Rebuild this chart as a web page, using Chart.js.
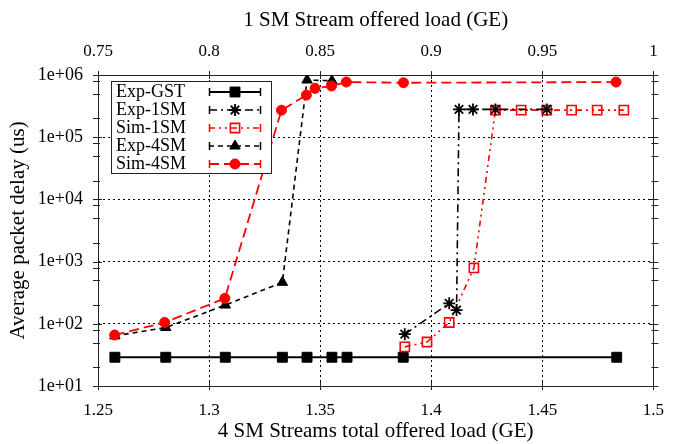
<!DOCTYPE html>
<html>
<head>
<meta charset="utf-8">
<script src="https://cdn.jsdelivr.net/npm/chart.js@4/dist/chart.umd.min.js"></script>
<style>
  html, body { margin: 0; padding: 0; background: #fff; }
  #wrap { width: 678px; height: 444px; }
</style>
</head>
<body>
<div id="wrap"><canvas id="c" width="678" height="444"></canvas></div>
<script>
// ---------- data ----------
const seriesLabels = ['Exp-GST', 'Exp-1SM', 'Sim-1SM', 'Exp-4SM', 'Sim-4SM'];

// 4 SM streams total offered load (GE) -> bottom axis
const xExpGST = [1.2576, 1.2805, 1.3073, 1.3330, 1.3441, 1.3553, 1.3621, 1.3874, 1.4835];
const yExpGST = [29, 29, 29, 29, 29, 29, 29, 29, 29];

const xExp4SM = [1.2576, 1.2805, 1.3073, 1.3330, 1.3441, 1.3553];
const yExp4SM = [64, 87, 200, 464, 830000, 810000];

const xSim4SM = [1.2575, 1.2800, 1.3071, 1.3326, 1.3438, 1.3477, 1.3551, 1.3618, 1.3875, 1.4832];
const ySim4SM = [66, 105, 256, 272000, 475000, 610000, 665000, 770000, 750000, 770000];

// 1 SM stream offered load (GE) -> top axis
const xExp1SM = [0.8881, 0.9081, 0.9114, 0.9125, 0.9188, 0.9289, 0.9520];
const yExp1SM = [68, 213, 166, 280000, 280000, 280000, 280000];

const xSim1SM = [0.8881, 0.8981, 0.9081, 0.9192, 0.9289, 0.9405, 0.9520, 0.9632, 0.9747, 0.9867];
const ySim1SM = [42.6, 51, 105, 790, 272000, 272000, 272000, 272000, 272000, 272000];

// ticks
const xBottomTicks = [1.25, 1.3, 1.35, 1.4, 1.45, 1.5];
const xBottomLabels = ['1.25', '1.3', '1.35', '1.4', '1.45', '1.5'];
const xTopTicks = [0.75, 0.8, 0.85, 0.9, 0.95, 1];
const xTopLabels = ['0.75', '0.8', '0.85', '0.9', '0.95', '1'];
const yTicks = [10, 100, 1000, 10000, 100000, 1000000];
const yTickLabels = ['1e+01', '1e+02', '1e+03', '1e+04', '1e+05', '1e+06'];
const yMinorFactors = [2, 5, 8];

const xBottomTitle = '4 SM Streams total offered load (GE)';
const xTopTitle = '1 SM Stream offered load (GE)';
const yTitle = 'Average packet delay (us)';

// ---------- build ----------
const zip = (xs, ys) => xs.map((x, i) => ({ x: x, y: ys[i] }));
const RED = '#ff0000';
const SERIF = "'Liberation Serif', 'Times New Roman', serif";

const datasets = [
  { label: seriesLabels[0], data: zip(xExpGST, yExpGST), xAxisID: 'x',
    borderColor: '#000', backgroundColor: '#000', borderWidth: 2, borderDash: [],
    pointStyle: 'rect', pointRadius: 7, pointBorderWidth: 1, order: 4 },
  { label: seriesLabels[1], data: zip(xExp1SM, yExp1SM), xAxisID: 'x2',
    borderColor: '#000', backgroundColor: '#000', borderWidth: 1.6, borderDash: [8, 4, 2, 4],
    pointStyle: 'star', pointRadius: 6, pointBorderWidth: 1.8, order: 1 },
  { label: seriesLabels[2], data: zip(xSim1SM, ySim1SM), xAxisID: 'x2',
    borderColor: RED, backgroundColor: 'rgba(0,0,0,0)', borderWidth: 1.6, borderDash: [6, 4, 2, 4, 2, 4],
    pointStyle: 'rect', pointRadius: 6.5, pointBorderWidth: 1.6, order: 3 },
  { label: seriesLabels[3], data: zip(xExp4SM, yExp4SM), xAxisID: 'x',
    borderColor: '#000', backgroundColor: '#000', borderWidth: 1.6, borderDash: [5, 4],
    pointStyle: 'triangle', pointRadius: 6, pointBorderWidth: 1, order: 2 },
  { label: seriesLabels[4], data: zip(xSim4SM, ySim4SM), xAxisID: 'x',
    borderColor: RED, backgroundColor: RED, borderWidth: 1.8, borderDash: [10, 5],
    pointStyle: 'circle', pointRadius: 5, pointBorderWidth: 1, order: 0 }
];
datasets.forEach(d => {
  d.yAxisID = 'y';
  d.showLine = true;
  d.tension = 0;
  d.fill = false;
  d.pointBackgroundColor = d.backgroundColor;
  d.pointBorderColor = d.borderColor;
  d.pointHoverRadius = d.pointRadius;
});

// marker drawing for the legend
function drawMarker(ctx, style, x, y, r, stroke, fill, lw) {
  ctx.save();
  ctx.setLineDash([]);
  ctx.lineWidth = lw;
  ctx.strokeStyle = stroke;
  ctx.fillStyle = fill;
  ctx.beginPath();
  if (style === 'rect') {
    const s = Math.SQRT1_2 * r;
    ctx.rect(x - s, y - s, 2 * s, 2 * s);
    ctx.fill(); ctx.stroke();
  } else if (style === 'circle') {
    ctx.arc(x, y, r, 0, Math.PI * 2);
    ctx.fill(); ctx.stroke();
  } else if (style === 'triangle') {
    ctx.moveTo(x, y - r);
    ctx.lineTo(x + r * Math.sin(2 * Math.PI / 3), y - r * Math.cos(2 * Math.PI / 3));
    ctx.lineTo(x + r * Math.sin(4 * Math.PI / 3), y - r * Math.cos(4 * Math.PI / 3));
    ctx.closePath();
    ctx.fill(); ctx.stroke();
  } else if (style === 'star') {
    for (let k = 0; k < 4; k++) {
      const a = k * Math.PI / 4;
      ctx.moveTo(x + Math.cos(a) * r, y + Math.sin(a) * r);
      ctx.lineTo(x - Math.cos(a) * r, y - Math.sin(a) * r);
    }
    ctx.stroke();
  }
  ctx.restore();
}

// frame + gnuplot-like ticks
const framePlugin = {
  id: 'frame',
  beforeDatasetsDraw(chart) {
    const ctx = chart.ctx;
    const a = chart.chartArea;
    const ys = chart.scales.y, xb = chart.scales.x, xt = chart.scales.x2;
    ctx.save();
    ctx.strokeStyle = '#222';
    ctx.lineWidth = 1;
    ctx.setLineDash([]);
    ctx.beginPath();
    yTicks.forEach((v, i) => {
      const p = Math.round(ys.getPixelForValue(v)) + 0.5;
      ctx.moveTo(a.left - 5, p); ctx.lineTo(a.left + 4, p);
      ctx.moveTo(a.right - 4, p); ctx.lineTo(a.right + 5, p);
      if (i < yTicks.length - 1) {
        yMinorFactors.forEach(f => {
          const q = Math.round(ys.getPixelForValue(v * f)) + 0.5;
          ctx.moveTo(a.left - 5, q); ctx.lineTo(a.left + 2, q);
          ctx.moveTo(a.right - 2, q); ctx.lineTo(a.right + 5, q);
        });
      }
    });
    xBottomTicks.forEach(v => {
      const p = Math.round(xb.getPixelForValue(v)) + 0.5;
      ctx.moveTo(p, a.bottom - 4); ctx.lineTo(p, a.bottom + 4);
    });
    xTopTicks.forEach(v => {
      const p = Math.round(xt.getPixelForValue(v)) + 0.5;
      ctx.moveTo(p, a.top - 4); ctx.lineTo(p, a.top + 4);
    });
    ctx.stroke();
    ctx.strokeRect(Math.round(a.left) + 0.5, Math.round(a.top) + 0.5,
                   Math.round(a.right - a.left), Math.round(a.bottom - a.top));
    ctx.restore();
  },
  afterDatasetsDraw(chart) {
    const ctx = chart.ctx;
    const bx = 111, by = 81, bw = 160, bh = 92;
    ctx.save();
    ctx.fillStyle = '#fff';
    ctx.fillRect(bx, by, bw, bh);
    ctx.strokeStyle = '#222';
    ctx.lineWidth = 1;
    ctx.setLineDash([]);
    ctx.strokeRect(bx + 0.5, by + 0.5, bw, bh);
    ctx.font = '18px ' + SERIF;
    ctx.textBaseline = 'middle';
    ctx.textAlign = 'left';
    chart.data.datasets.forEach((d, i) => {
      const ry = by + 11 + i * 18;
      ctx.fillStyle = '#000';
      ctx.fillText(d.label, bx + 5, ry);
      const x1 = 209, x2 = 261;
      ctx.strokeStyle = d.borderColor;
      ctx.lineWidth = d.borderWidth;
      ctx.setLineDash(d.borderDash || []);
      ctx.beginPath();
      ctx.moveTo(x1, ry); ctx.lineTo(x2, ry);
      ctx.stroke();
      ctx.setLineDash([]);
      ctx.lineWidth = 1.5;
      ctx.beginPath();
      ctx.moveTo(x1 + 0.5, ry - 4); ctx.lineTo(x1 + 0.5, ry + 4);
      ctx.moveTo(x2 - 0.5, ry - 4); ctx.lineTo(x2 - 0.5, ry + 4);
      ctx.stroke();
      drawMarker(ctx, d.pointStyle, 235, ry, d.pointRadius, d.pointBorderColor,
                 d.pointBackgroundColor, d.pointBorderWidth);
    });
    ctx.restore();
  }
};

const tickFont = { family: SERIF, size: 17 };
const yTickFont = { family: SERIF, size: 18 };
const titleFont = { family: SERIF, size: 21 };

new Chart(document.getElementById('c'), {
  type: 'line',
  data: { datasets: datasets },
  options: {
    responsive: false,
    animation: false,
    devicePixelRatio: 1,
    layout: { padding: { left: 0, right: 14, top: 0, bottom: 0 } },
    plugins: { legend: { display: false }, tooltip: { enabled: false } },
    scales: {
      x: {
        type: 'linear', position: 'bottom', min: 1.25, max: 1.5,
        afterBuildTicks: s => { s.ticks = xBottomTicks.map(v => ({ value: v })); },
        afterFit: s => { s.height = 58; },
        ticks: { font: tickFont, color: '#000', padding: 14, maxRotation: 0,
                 callback: (v, i) => xBottomLabels[i] },
        grid: { color: '#000', lineWidth: 1, drawTicks: false },
        border: { display: false, dash: [2, 3] },
        title: { display: true, text: xBottomTitle, font: titleFont, color: '#000',
                 padding: { top: 0, bottom: 0 } }
      },
      x2: {
        type: 'linear', position: 'top', min: 0.75, max: 1,
        afterBuildTicks: s => { s.ticks = xTopTicks.map(v => ({ value: v })); },
        afterFit: s => { s.height = 75; },
        ticks: { font: tickFont, color: '#000', padding: 13, maxRotation: 0,
                 callback: (v, i) => xTopLabels[i] },
        grid: { display: false, drawTicks: false },
        border: { display: false },
        title: { display: true, text: xTopTitle, font: titleFont, color: '#000',
                 padding: { top: 8, bottom: 0 } }
      },
      y: {
        type: 'logarithmic', position: 'left', min: 10, max: 1000000,
        afterBuildTicks: s => { s.ticks = yTicks.map(v => ({ value: v })); },
        afterFit: s => { s.width = 98; },
        ticks: { font: yTickFont, color: '#000', padding: 15,
                 callback: (v, i) => yTickLabels[i] },
        grid: { color: '#000', lineWidth: 1, drawTicks: false },
        border: { display: false, dash: [2, 3] },
        title: { display: true, text: yTitle, font: titleFont, color: '#000',
                 padding: { top: 6, bottom: 0 } }
      }
    }
  },
  plugins: [framePlugin]
});
</script>
</body>
</html>
